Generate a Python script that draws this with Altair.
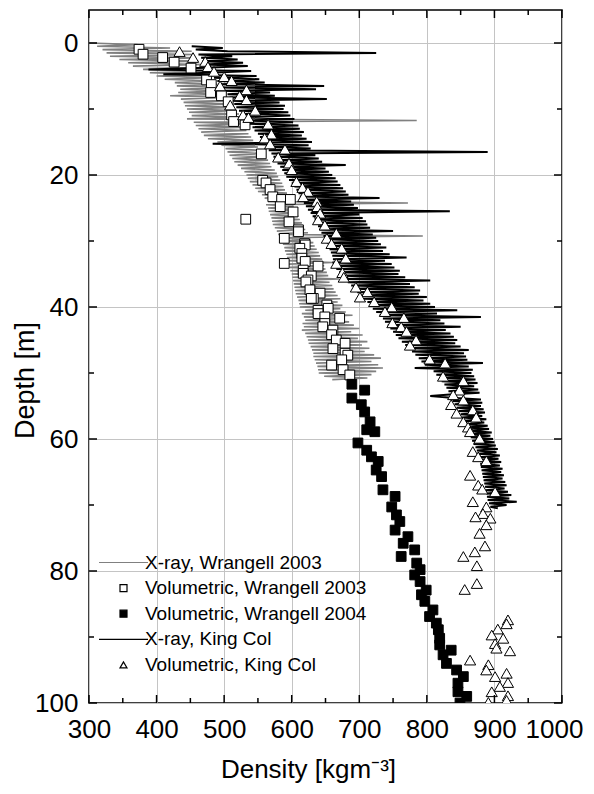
import altair as alt
import pandas as pd

FONT = "Liberation Sans"

SERIES = [
    "X-ray, Wrangell 2003",
    "Volumetric, Wrangell 2003",
    "Volumetric, Wrangell 2004",
    "X-ray, King Col",
    "Volumetric, King Col",
]

# ---- X-ray profile, Wrangell 2003 (grey), sampled every 0.25 m from 0 m ----
xray_w_start = 0.0
xray_w_step = 0.25
xray_w_density = [
    300, 372, 312, 420, 320, 452, 326, 455, 331, 458,
    345, 462, 358, 468, 365, 470, 380, 475, 390, 478,
    400, 480, 412, 486, 427, 490, 430, 494, 435, 498,
    432, 500, 420, 505, 436, 508, 440, 512, 442, 515,
    445, 518, 448, 522, 452, 525, 445, 785, 455, 528,
    458, 530, 462, 533, 466, 536, 470, 540, 476, 543,
    490, 546, 496, 550, 502, 553, 505, 556, 508, 560,
    512, 565, 515, 568, 520, 570, 525, 575, 530, 578,
    533, 580, 535, 583, 538, 586, 542, 588, 546, 590,
    550, 593, 556, 596, 560, 600, 565, 772, 562, 603,
    565, 606, 566, 608, 568, 610, 570, 612, 571, 615,
    572, 618, 575, 620, 578, 624, 580, 794, 582, 628,
    585, 632, 587, 634, 589, 637, 590, 640, 592, 642,
    593, 645, 594, 660, 596, 648, 597, 650, 598, 652,
    600, 654, 601, 670, 602, 656, 603, 660, 604, 662,
    605, 665, 606, 668, 608, 672, 610, 668, 611, 675,
    612, 672, 620, 680, 615, 690, 618, 676, 620, 685,
    616, 692, 618, 700, 615, 688, 620, 705, 622, 698,
    624, 712, 625, 704, 628, 715, 630, 708, 632, 722,
    632, 732, 634, 718, 636, 728, 638, 735, 639, 725,
    640, 718, 648, 712, 660,
]

# ---- X-ray profile, King Col (black), sampled every 0.25 m from 0.5 m ----
xray_k_start = 0.5
xray_k_step = 0.25
xray_k_density = [
    452, 498, 458, 505, 725, 462, 512, 466, 520, 468,
    528, 470, 535, 472, 388, 540, 478, 410, 548, 485,
    552, 490, 560, 495, 648, 498, 636, 500, 568, 505,
    575, 508, 652, 512, 582, 515, 590, 518, 588, 522,
    595, 526, 598, 530, 604, 534, 602, 538, 610, 542,
    612, 545, 618, 550, 615, 553, 622, 556, 630, 483,
    625, 562, 628, 566, 890, 570, 635, 573, 640, 576,
    645, 579, 680, 583, 650, 586, 655, 589, 660, 592,
    665, 596, 668, 600, 672, 604, 676, 607, 680, 610,
    684, 612, 730, 615, 688, 618, 692, 621, 698, 624,
    834, 628, 700, 631, 705, 634, 710, 637, 712, 639,
    716, 641, 750, 644, 720, 647, 725, 650, 728, 652,
    732, 654, 740, 656, 735, 658, 745, 660, 770, 661,
    738, 660, 748, 663, 752, 666, 760, 670, 758, 674,
    768, 678, 805, 683, 775, 688, 782, 692, 790, 697,
    788, 702, 800, 707, 795, 712, 805, 716, 812, 720,
    845, 725, 815, 730, 880, 735, 820, 738, 826, 742,
    850, 746, 828, 750, 835, 754, 840, 758, 845, 763,
    842, 768, 850, 773, 862, 778, 855, 783, 858, 788,
    860, 792, 883, 797, 862, 782, 868, 810, 866, 814,
    870, 818, 872, 822, 875, 826, 870, 829, 876, 832,
    878, 834, 805, 836, 880, 838, 882, 841, 880, 844,
    884, 847, 886, 850, 882, 852, 888, 855, 885, 857,
    890, 859, 892, 861, 896, 863, 894, 865, 898, 867,
    900, 869, 902, 872, 905, 874, 903, 876, 908, 877,
    906, 878, 910, 879, 908, 880, 912, 881, 910, 882,
    914, 883, 912, 884, 916, 885, 918, 886, 915, 887,
    920, 888, 925, 889, 922, 890, 933, 892, 918, 894,
    905,
]

# ---- Volumetric, Wrangell 2003 (open squares) ----
vol_w03_depth = [
    0.95, 1.7, 2.2, 2.9, 3.8, 5.6, 6.3, 7.5, 8.0, 8.9,
    10.9, 11.9, 12.4, 16.8, 20.8, 21.2, 22.2, 23.3, 23.7, 23.7,
    24.8, 25.6, 26.7, 27.1, 28.3, 28.6, 29.6, 30.4, 30.6, 31.1,
    31.9, 32.6, 33.1, 33.4, 33.8, 34.4, 34.9, 35.3, 35.9, 36.2,
    37.4, 37.9, 38.7, 38.7, 39.7, 40.2, 40.5, 41.0, 41.5, 41.7,
    42.5, 43.0, 43.5, 44.2, 45.0, 45.5, 46.3, 47.0, 47.3, 48.0,
    48.8, 49.5, 50.3,
]
vol_w03_density = [
    374, 380, 409, 426, 451, 474, 481, 480, 496, 506,
    511, 514, 531, 555, 557, 562, 568, 572, 585, 598,
    583, 602, 532, 596, 610, 610, 589, 619, 620, 612,
    615, 615, 620, 589, 639, 617, 617, 629, 624, 621,
    627, 642, 632, 629, 652, 654, 639, 639, 649, 671,
    649, 646, 661, 659, 666, 679, 661, 679, 683, 674,
    659, 676, 686,
]

# ---- Volumetric, Wrangell 2004 (filled squares) ----
vol_w04_depth = [
    51.7, 52.6, 53.8, 54.8, 55.9, 57.4, 58.6, 58.9, 60.6, 61.7,
    62.7, 63.4, 64.7, 65.7, 67.7, 68.7, 70.3, 71.5, 72.5, 73.8,
    74.8, 75.8, 76.8, 77.8, 78.8, 79.8, 80.6, 81.6, 82.9, 83.6,
    84.6, 85.9, 86.9, 87.9, 88.9, 90.2, 91.2, 92.0, 92.7, 94.0,
    95.0, 96.0, 97.0, 98.3, 99.0, 100.0,
]
vol_w04_density = [
    689, 708, 689, 703, 708, 716, 711, 723, 698, 711,
    718, 728, 725, 733, 735, 753, 748, 755, 760, 753,
    772, 765, 782, 762, 785, 790, 782, 790, 799, 792,
    797, 809, 804, 814, 817, 819, 819, 836, 824, 829,
    844, 854, 846, 846, 859, 849,
]

# ---- Volumetric, King Col (open triangles) ----
vol_k_depth = [
    1.3, 2.2, 2.8, 3.6, 4.3, 5.1, 5.7, 6.5, 7.1, 8.0,
    8.6, 9.4, 10.2, 10.9, 11.3, 12.3, 13.8, 14.4, 15.3, 16.1,
    17.3, 18.2, 19.2, 21.0, 21.9, 22.5, 23.3, 24.0, 24.8, 25.8,
    26.8, 27.6, 28.8, 29.6, 30.4, 31.1, 32.6, 33.4, 34.8, 35.5,
    37.0, 37.7, 38.5, 39.2, 40.0, 40.7, 41.6, 42.4, 43.0, 43.7,
    45.0, 45.8, 47.9, 48.5, 50.5, 51.2, 52.6, 53.3, 54.1, 54.8,
    55.6, 56.1, 56.7, 57.4, 58.2, 58.9, 59.9, 61.9, 62.7, 63.3,
    65.5, 67.0, 67.6, 68.0, 69.5, 70.3, 71.3, 71.8, 72.0, 73.0,
    74.3, 76.2, 77.1, 77.8, 79.2, 81.9, 82.8, 87.4, 88.0, 88.8,
    89.7, 90.2, 91.0, 91.7, 92.1, 93.5, 94.2, 95.0, 95.5, 96.0,
    96.9, 97.5, 98.3, 98.9, 99.6, 99.9,
]
vol_k_density = [
    434, 454, 472, 476, 485, 500, 511, 494, 533, 523,
    533, 509, 546, 528, 536, 565, 570, 560, 568, 590,
    580, 596, 600, 607, 616, 624, 617, 637, 638, 642,
    639, 649, 666, 652, 659, 674, 680, 666, 675, 677,
    695, 712, 701, 722, 748, 738, 766, 749, 762, 770,
    784, 775, 804, 827, 824, 854, 848, 839, 854, 836,
    868, 844, 873, 854, 861, 864, 878, 868, 876, 888,
    864, 876, 882, 901, 868, 888, 883, 872, 894, 888,
    878, 886, 871, 854, 874, 874, 856, 920, 918, 905,
    896, 913, 901, 903, 923, 864, 891, 888, 918, 901,
    920, 908, 896, 920, 918, 891,
]

X_MAJOR = [300, 400, 500, 600, 700, 800, 900, 1000]
X_MINOR = [350, 450, 550, 650, 750, 850, 950]
Y_MAJOR = [0, 20, 40, 60, 80, 100]
Y_MINOR = [10, 30, 50, 70, 90]

W, H = 473, 693
MAJOR_LEN, MINOR_LEN = 8, 5
LINE_SYMBOL = "M-7,0H7"

df_xw = pd.DataFrame({
    "density": xray_w_density,
    "depth": [xray_w_start + xray_w_step * i for i in range(len(xray_w_density))],
})
df_xw["series"] = SERIES[0]
df_xk = pd.DataFrame({
    "density": xray_k_density,
    "depth": [xray_k_start + xray_k_step * i for i in range(len(xray_k_density))],
})
df_xk["series"] = SERIES[3]
df_w03 = pd.DataFrame({"density": vol_w03_density, "depth": vol_w03_depth})
df_w03["series"] = SERIES[1]
df_w04 = pd.DataFrame({"density": vol_w04_density, "depth": vol_w04_depth})
df_w04["series"] = SERIES[2]
df_k = pd.DataFrame({"density": vol_k_density, "depth": vol_k_depth})
df_k["series"] = SERIES[4]

x_scale = alt.Scale(domain=[300, 1000], nice=False, zero=False)
y_scale = alt.Scale(domain=[-5, 100], reverse=True, nice=False, zero=False)

shape_scale = alt.Scale(domain=SERIES, range=[LINE_SYMBOL, "square", "square", LINE_SYMBOL, "triangle-up"])
fill_scale = alt.Scale(domain=SERIES, range=["transparent", "white", "black", "transparent", "white"])
stroke_scale = alt.Scale(domain=SERIES, range=["#808080", "black", "black", "black", "black"])

legend = alt.Legend(
    title=None, orient="none", legendX=25, legendY=543,
    symbolSize=49, symbolStrokeWidth=1.2,
    labelFont=FONT, labelFontSize=19, labelColor="black", labelLimit=500,
    labelOffset=12, rowPadding=5.6, padding=0,
)

x_main = alt.Axis(
    orient="bottom", values=X_MAJOR, format="d", labelFont=FONT, labelFontSize=26,
    labelColor="black", labelPadding=13, labelOverlap=False, labelFlush=False,
    labelOffset={"condition": {"test": "datum.value == 1000", "value": -8}, "value": 0},
    ticks=False, domain=False, grid=True, gridColor="#c4c4c4", gridWidth=1,
    title="Density [kgm⁻³]", titleFont=FONT, titleFontSize=26,
    titleFontWeight="normal", titleColor="black",
    titleX=219, titleY=53, titleAlign="center", titleBaseline="top",
)
y_main = alt.Axis(
    orient="left", values=Y_MAJOR, format="d", labelFont=FONT, labelFontSize=26,
    labelColor="black", labelPadding=11, labelOverlap=False, labelFlush=False,
    ticks=False, domain=False, grid=True, gridColor="#c4c4c4", gridWidth=1,
    title="Depth [m]", titleFont=FONT, titleFontSize=27,
    titleFontWeight="normal", titleColor="black",
    titleX=-64, titleY=370, titleAlign="center", titleBaseline="middle",
)


def enc(xaxis=alt.Undefined, yaxis=alt.Undefined):
    return dict(
        x=alt.X("density:Q", scale=x_scale, axis=xaxis),
        y=alt.Y("depth:Q", scale=y_scale, axis=yaxis),
    )


def point_enc():
    return dict(
        shape=alt.Shape("series:N", scale=shape_scale, legend=legend),
        fill=alt.Fill("series:N", scale=fill_scale, legend=legend),
        stroke=alt.Stroke("series:N", scale=stroke_scale, legend=legend),
    )


gray_line = alt.Chart(df_xw).mark_line(strokeWidth=1.6, clip=True).encode(
    order=alt.Order("depth:Q"),
    stroke=alt.Stroke("series:N", scale=stroke_scale, legend=legend),
    **enc(x_main, y_main),
)

black_line = alt.Chart(df_xk).mark_line(strokeWidth=2.0, clip=True).encode(
    order=alt.Order("depth:Q"),
    stroke=alt.Stroke("series:N", scale=stroke_scale, legend=legend),
    **enc(),
)

sq03 = alt.Chart(df_w03).mark_point(size=95, strokeWidth=1, opacity=1, clip=True).encode(
    **point_enc(), **enc()
)
sq04 = alt.Chart(df_w04).mark_point(size=95, strokeWidth=1, opacity=1, clip=True).encode(
    **point_enc(), **enc()
)
tri = alt.Chart(df_k).mark_point(size=125, strokeWidth=1, opacity=1, clip=True).encode(
    **point_enc(), **enc()
)


# inward-pointing frame ticks, positioned by the same scales
def x_ticks(values, length):
    base = alt.Chart(pd.DataFrame({"density": values})).mark_rule(color="black", strokeWidth=1.5)
    xs = alt.X("density:Q", scale=x_scale)
    return [
        base.encode(x=xs, y=alt.value(H), y2=alt.value(H - length)),
        base.encode(x=xs, y=alt.value(0), y2=alt.value(length)),
    ]


def y_ticks(values, length):
    base = alt.Chart(pd.DataFrame({"depth": values})).mark_rule(color="black", strokeWidth=1.5)
    ys = alt.Y("depth:Q", scale=y_scale)
    return [
        base.encode(y=ys, x=alt.value(0), x2=alt.value(length)),
        base.encode(y=ys, x=alt.value(W), x2=alt.value(W - length)),
    ]


ticks = (
    x_ticks(X_MAJOR, MAJOR_LEN) + x_ticks(X_MINOR, MINOR_LEN)
    + y_ticks(Y_MAJOR, MAJOR_LEN) + y_ticks(Y_MINOR, MINOR_LEN)
)

chart = alt.layer(gray_line, black_line, sq03, sq04, tri, *ticks).properties(
    width=W, height=H,
    padding={"left": 81, "top": 2, "right": 24, "bottom": 83},
    autosize=alt.AutoSizeParams(type="none"),
    background="white",
).configure_view(
    stroke="black", strokeWidth=1.5
)

chart.save("out.html", embed_options={"renderer": "svg", "actions": False})
